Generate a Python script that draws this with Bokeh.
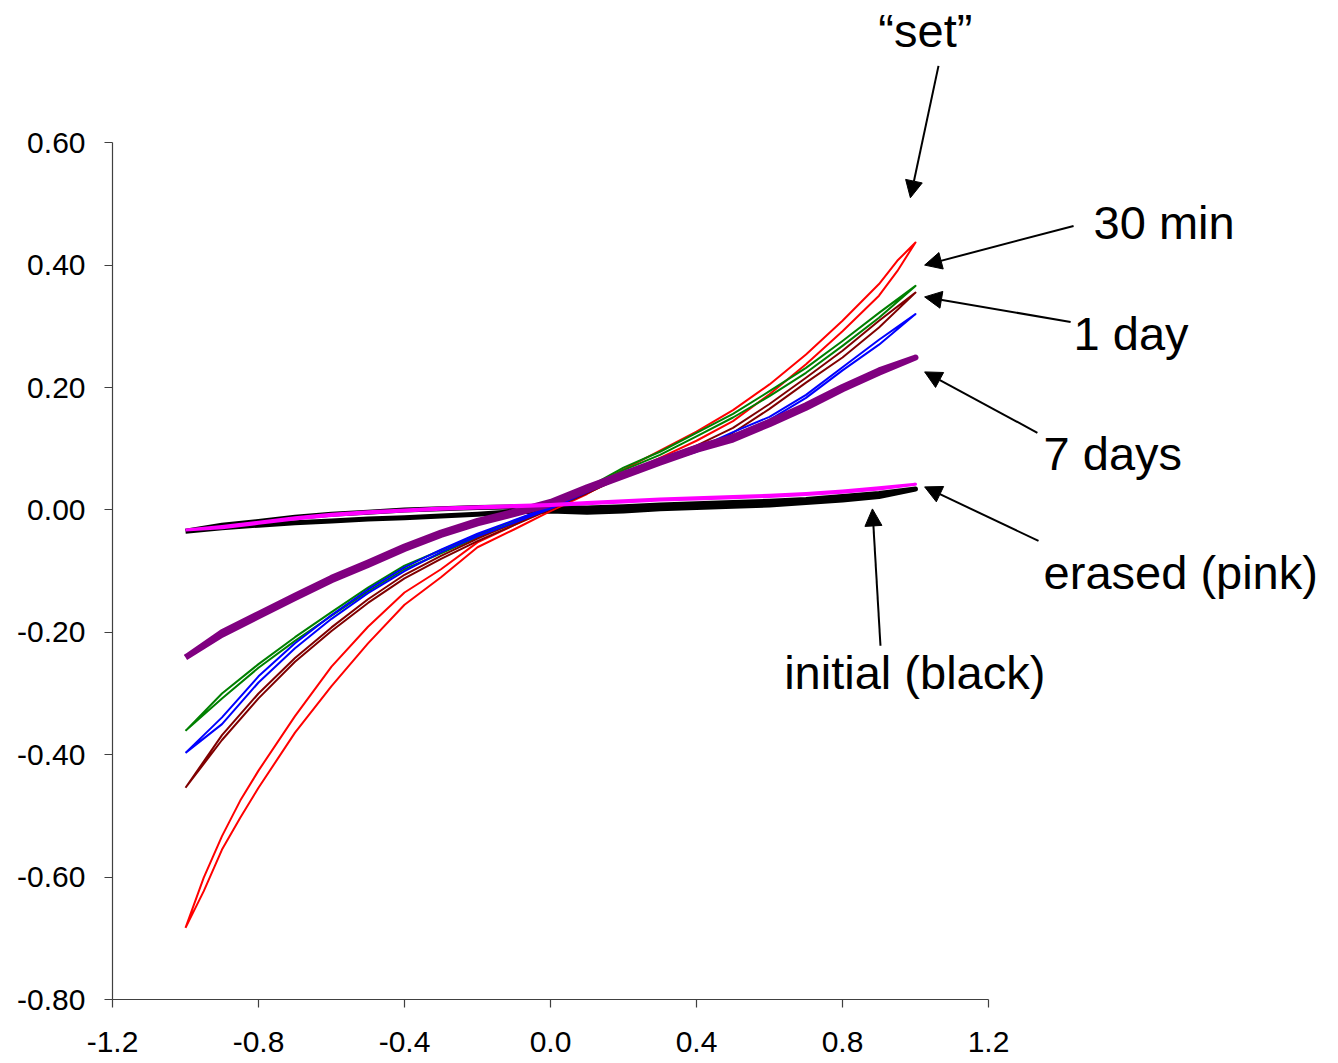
from bokeh.plotting import figure
from bokeh.models import Arrow, NormalHead, Label, FixedTicker, NumeralTickFormatter, Range1d
from bokeh.embed import file_html
from bokeh.resources import INLINE

# ---- data ----
X = [-1.0, -0.9, -0.8, -0.7, -0.6, -0.5, -0.4, -0.3, -0.2, -0.1, 0.0,
     0.1, 0.2, 0.3, 0.4, 0.5, 0.6, 0.7, 0.8, 0.9, 1.0]

red_x = [-1.0, -0.95, -0.9, -0.85, -0.8, -0.7, -0.6, -0.5, -0.4, -0.3, -0.2, -0.1, 0.0,
         0.1, 0.2, 0.3, 0.4, 0.5, 0.6, 0.7, 0.8, 0.9, 0.95, 1.0]
red_up = [-0.683, -0.601, -0.533, -0.475, -0.426, -0.337, -0.256, -0.191, -0.135, -0.097, -0.053, -0.025, 0.004,
          0.034, 0.066, 0.097, 0.128, 0.163, 0.205, 0.254, 0.309, 0.369, 0.407, 0.437]
red_dn = [-0.683, -0.623, -0.555, -0.503, -0.454, -0.364, -0.288, -0.218, -0.155, -0.110, -0.061, -0.032, -0.002,
          0.026, 0.058, 0.085, 0.113, 0.145, 0.189, 0.238, 0.292, 0.350, 0.390, 0.437]

green_up = [-0.361, -0.300, -0.252, -0.208, -0.167, -0.127, -0.091, -0.066, -0.041, -0.018, 0.005,
            0.036, 0.069, 0.095, 0.126, 0.157, 0.194, 0.232, 0.276, 0.322, 0.366]
green_dn = [-0.361, -0.308, -0.258, -0.214, -0.173, -0.133, -0.097, -0.071, -0.045, -0.022, 0.002,
            0.032, 0.065, 0.090, 0.120, 0.151, 0.186, 0.224, 0.268, 0.314, 0.366]

brown_up = [-0.454, -0.368, -0.300, -0.242, -0.192, -0.146, -0.106, -0.075, -0.047, -0.021, 0.004,
            0.031, 0.060, 0.083, 0.105, 0.134, 0.173, 0.216, 0.260, 0.309, 0.355]
brown_dn = [-0.454, -0.376, -0.308, -0.248, -0.198, -0.152, -0.112, -0.080, -0.051, -0.025, 0.001,
            0.027, 0.055, 0.078, 0.096, 0.126, 0.165, 0.208, 0.249, 0.298, 0.355]

blue_up = [-0.397, -0.339, -0.272, -0.218, -0.172, -0.130, -0.094, -0.065, -0.039, -0.017, 0.005,
           0.032, 0.058, 0.080, 0.100, 0.127, 0.152, 0.188, 0.233, 0.278, 0.320]
blue_dn = [-0.397, -0.350, -0.282, -0.226, -0.178, -0.136, -0.100, -0.069, -0.043, -0.021, 0.002,
           0.029, 0.055, 0.076, 0.095, 0.122, 0.147, 0.183, 0.228, 0.270, 0.320]

purple_up = [-0.241, -0.200, -0.170, -0.140, -0.111, -0.086, -0.060, -0.037, -0.018, -0.003, 0.013,
             0.037, 0.059, 0.081, 0.102, 0.119, 0.144, 0.171, 0.201, 0.228, 0.249]
purple_dn = [-0.241, -0.204, -0.174, -0.144, -0.115, -0.090, -0.064, -0.041, -0.022, -0.007, 0.009,
             0.033, 0.055, 0.077, 0.098, 0.115, 0.140, 0.167, 0.197, 0.224, 0.249]

pink_up = [-0.033, -0.027, -0.020, -0.013, -0.007, -0.003, 0.000, 0.003, 0.005, 0.007, 0.009,
           0.012, 0.015, 0.018, 0.020, 0.022, 0.024, 0.027, 0.031, 0.036, 0.042]
pink_dn = [-0.033, -0.029, -0.022, -0.015, -0.009, -0.005, -0.002, 0.001, 0.003, 0.005, 0.007,
           0.010, 0.013, 0.016, 0.018, 0.020, 0.022, 0.025, 0.029, 0.034, 0.042]

black_up = [-0.035, -0.025, -0.019, -0.012, -0.007, -0.004, 0.000, 0.002, 0.004, 0.005, 0.004,
            0.003, 0.005, 0.008, 0.010, 0.012, 0.014, 0.017, 0.022, 0.027, 0.034]
black_dn = [-0.035, -0.029, -0.025, -0.021, -0.018, -0.015, -0.013, -0.010, -0.007, -0.003, -0.002,
            -0.004, -0.002, 0.002, 0.004, 0.006, 0.008, 0.012, 0.016, 0.022, 0.034]

x_ticks = [-1.2, -0.8, -0.4, 0.0, 0.4, 0.8, 1.2]
y_ticks = [-0.8, -0.6, -0.4, -0.2, 0.0, 0.2, 0.4, 0.6]

# annotations: text, label position, arrow start, arrow end (data units)
ann_texts = ["\u201cset\u201d", "30 min", "1 day", "7 days", "erased (pink)", "initial (black)"]
ann_label_xy = [(1.027, 0.784), (1.488, 0.469), (1.433, 0.288), (1.351, 0.092), (1.351, -0.103), (0.998, -0.266)]
ann_align = ["center", "left", "left", "left", "left", "center"]
arrow_start = [(1.063, 0.7255), (1.433, 0.464), (1.425, 0.307), (1.334, 0.126), (1.337, -0.0507), (0.904, -0.222)]
arrow_end = [(0.986, 0.510), (1.025, 0.400), (1.025, 0.348), (1.025, 0.2255), (1.025, 0.0376), (0.882, 0.0016)]

FONT = "Liberation Sans"

# plot area is widened beyond the axes so that the annotations (outside the axes box) are not clipped;
# the axes themselves are bounded to the original chart box.
W, H = 1330, 1063
LEFT, BOTTOM = 112, 64
fw, fh = W - LEFT, H - BOTTOM
x_end = -1.2 + fw / 365.0
y_end = -0.8 + fh / 612.0

p = figure(width=W, height=H, output_backend="svg", toolbar_location=None,
           x_range=Range1d(-1.2, x_end), y_range=Range1d(-0.8, y_end),
           min_border_left=LEFT, min_border_right=0, min_border_top=0, min_border_bottom=BOTTOM)
p.frame_width = fw
p.frame_height = fh
p.outline_line_color = None
p.xgrid.visible = False
p.ygrid.visible = False
p.background_fill_color = "white"
p.border_fill_color = "white"

for ax in (p.xaxis[0], p.yaxis[0]):
    ax.axis_line_color = "#404040"
    ax.axis_line_width = 1.2
    ax.major_tick_line_color = "#404040"
    ax.major_tick_line_width = 1.2
    ax.major_tick_in = 0
    ax.major_tick_out = 8
    ax.minor_tick_line_color = None
    ax.major_label_text_font = FONT
    ax.major_label_text_font_size = "30px"
    ax.major_label_text_color = "black"

p.xaxis[0].bounds = (-1.2, 1.2)
p.yaxis[0].bounds = (-0.8, 0.6)
p.xaxis[0].ticker = FixedTicker(ticks=x_ticks)
p.yaxis[0].ticker = FixedTicker(ticks=y_ticks)
p.xaxis[0].formatter = NumeralTickFormatter(format="0.0")
p.yaxis[0].formatter = NumeralTickFormatter(format="0.00")
p.xaxis[0].major_label_standoff = 24
p.yaxis[0].major_label_standoff = 19


def loop(xs, up, dn):
    return list(xs) + list(xs)[::-1], list(up) + list(dn)[::-1]


series = [
    (X, black_up, black_dn, "#000000", 5),
    (red_x, red_up, red_dn, "#FF0000", 2),
    (X, green_up, green_dn, "#008000", 2),
    (X, brown_up, brown_dn, "#800000", 2),
    (X, blue_up, blue_dn, "#0000FF", 2),
    (X, purple_up, purple_dn, "#800080", 6),
    (X, pink_up, pink_dn, "#FF00FF", 3),
]
for xs, up, dn, col, lw in series:
    lx, ly = loop(xs, up, dn)
    p.line(lx, ly, line_color=col, line_width=lw, line_join="round")

for (sx, sy), (ex, ey) in zip(arrow_start, arrow_end):
    p.add_layout(Arrow(end=NormalHead(size=17, fill_color="black", line_color="black"),
                       x_start=sx, y_start=sy, x_end=ex, y_end=ey,
                       line_color="black", line_width=2))

for t, (lx, ly), al in zip(ann_texts, ann_label_xy, ann_align):
    p.add_layout(Label(x=lx, y=ly, text=t, text_font=FONT, text_font_size="47px",
                       text_align=al, text_baseline="middle", text_color="black"))

open("out.html", "w").write(file_html(p, INLINE))
